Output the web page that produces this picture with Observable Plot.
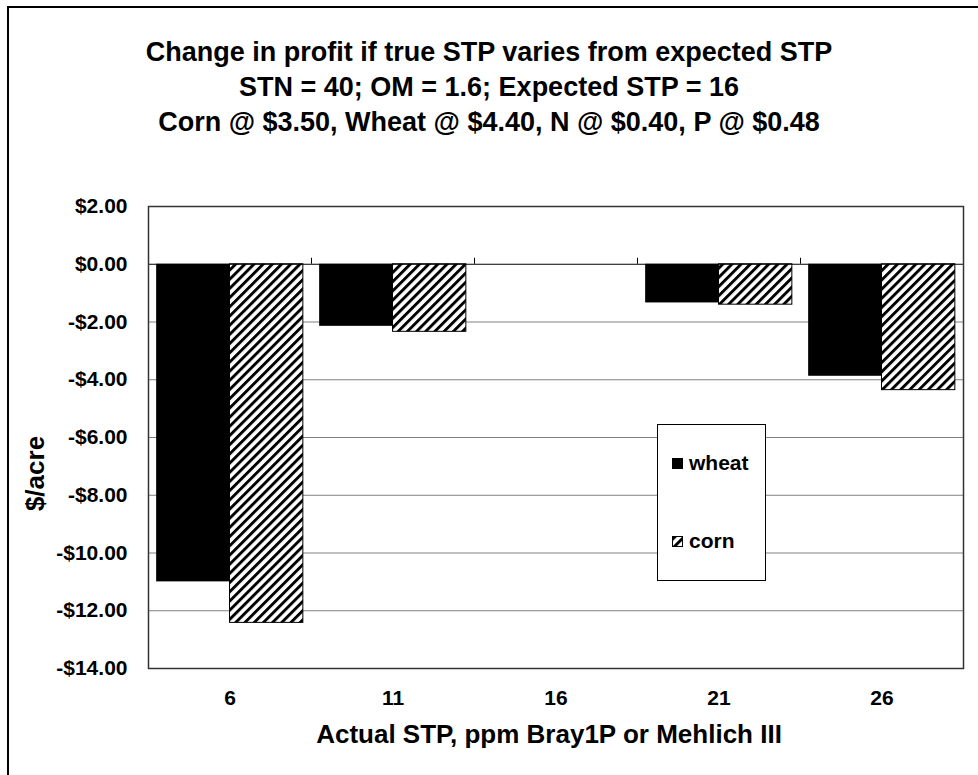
<!DOCTYPE html>
<html>
<head>
<meta charset="utf-8">
<script src="https://cdn.jsdelivr.net/npm/d3@7"></script>
<script src="https://cdn.jsdelivr.net/npm/@observablehq/plot@0.6"></script>
<style>
  html, body { margin: 0; padding: 0; background: #fff; overflow: hidden; }
  #wrap { position: relative; width: 978px; height: 775px; overflow: hidden; font-family: "Liberation Sans", Arial, sans-serif; font-weight: bold; color: #000; }
  #border { position: absolute; left: 7px; top: 6px; width: 1100px; height: 1100px; border: 2px solid #000; box-sizing: border-box; pointer-events: none; z-index: 5; }
  #title { position: absolute; left: 0; top: 0; width: 978px; height: 176px; box-sizing: border-box; padding-top: 35px; text-align: center; font-size: 27px; line-height: 35px; }
  #chart { position: absolute; left: 0; top: 176px; }
  #legend { position: absolute; left: 657px; top: 424px; width: 109px; height: 157px; z-index: 2; }
</style>
</head>
<body>
<div id="wrap">
  <div id="title">
    <div>Change in profit if true STP varies from expected STP</div>
    <div>STN = 40; OM = 1.6; Expected STP = 16</div>
    <div>Corn @ $3.50, Wheat @ $4.40, N @ $0.40, P @ $0.48</div>
  </div>
  <div id="chart"></div>
  <div id="legend"></div>
  <div id="border"></div>
</div>
<script>
// ---- data ----
const stp = ["6", "11", "16", "21", "26"];
const wheat = [-11.0, -2.15, 0, -1.34, -3.88];
const corn = [-12.42, -2.34, 0, -1.40, -4.36];
const seriesNames = ["wheat", "corn"];
const yTicks = [2, 0, -2, -4, -6, -8, -10, -12, -14];
const xTitle = "Actual STP, ppm Bray1P or Mehlich III";
const yTitle = "$/acre";

// ---- tables built from the arrays ----
const wheatRows = stp.map((s, i) => ({stp: s, series: seriesNames[0], value: wheat[i]}));
const cornRows = stp.map((s, i) => ({stp: s, series: seriesNames[1], value: corn[i]}));

const W = 978, H = 599, ML = 148, MR = 15, MT = 30, MB = 107;
const bw = (W - ML - MR) / stp.length;
const pad = bw * 0.05;
const fmt = d => (d < 0 ? "-" : "") + "$" + Math.abs(d).toFixed(2);
const font = '"Liberation Sans", Arial, sans-serif';

// tick marks at the category boundaries, on the zero line, pointing up
function boundaryTicks(index, scales) {
  const {x, y} = scales;
  const g = d3.create("svg:g").attr("stroke", "#000").attr("stroke-width", 1);
  const b = x.bandwidth();
  x.domain().slice(0, -1).forEach(c => {
    const px = Math.round(x(c) + b) + 0.5;
    g.append("line").attr("x1", px).attr("x2", px)
      .attr("y1", y(0)).attr("y2", y(0) - 6);
  });
  return g.node();
}

const chart = Plot.plot({
  width: W,
  height: H,
  marginLeft: ML,
  marginRight: MR,
  marginTop: MT,
  marginBottom: MB,
  style: {fontFamily: font, fontWeight: "bold", fontSize: "21px", color: "#000", background: "transparent"},
  x: {domain: stp, padding: 0, tickSize: 0, tickPadding: 22, label: null},
  y: {domain: [-14, 2], ticks: yTicks, tickFormat: fmt, tickSize: 0, tickPadding: 21, label: null},
  marks: [
    Plot.ruleY(yTicks.filter(d => d !== 0), {stroke: "#808080", strokeWidth: 1}),
    Plot.barY(wheatRows, {x: "stp", y: "value", fill: "#000", insetLeft: pad, insetRight: bw / 2}),
    Plot.barY(cornRows, {x: "stp", y: "value", fill: "url(#hatch)", stroke: "#000", strokeWidth: 1, insetLeft: bw / 2, insetRight: pad}),
    Plot.ruleY([0], {stroke: "#000", strokeWidth: 1}),
    boundaryTicks,
    Plot.frame({stroke: "#333", strokeWidth: 1.5}),
    Plot.text([yTitle], {text: d => d, frameAnchor: "left", dx: -113, dy: 36, rotate: -90, textAnchor: "middle", lineAnchor: "middle", fontSize: 26, fontWeight: "bold"}),
    Plot.text([xTitle], {text: d => d, frameAnchor: "bottom", dx: -7, dy: 66, textAnchor: "middle", lineAnchor: "middle", fontSize: 26, fontWeight: "bold"})
  ]
});

d3.select(chart).insert("defs", ":first-child").html(
  '<pattern id="hatch" patternUnits="userSpaceOnUse" width="6.5" height="6.5" patternTransform="rotate(45)">' +
  '<rect width="6.5" height="6.5" fill="#fff"/><rect width="2.9" height="6.5" fill="#000"/></pattern>'
);
document.getElementById("chart").appendChild(chart);

// ---- legend ----
const leg = d3.select("#legend").append("svg").attr("width", 109).attr("height", 157)
  .style("font-family", font).style("font-weight", "bold").style("font-size", "21px");
leg.append("rect").attr("x", 0.5).attr("y", 0.5).attr("width", 108).attr("height", 156)
  .attr("fill", "#fff").attr("stroke", "#000");
const legRows = [
  {name: seriesNames[0], fill: "#000", y: 46},
  {name: seriesNames[1], fill: "url(#hatch)", y: 124}
];
legRows.forEach(r => {
  leg.append("rect").attr("x", 15.5).attr("y", r.y - 11.5).attr("width", 10).attr("height", 10)
    .attr("fill", r.fill).attr("stroke", "#000");
  leg.append("text").attr("x", 32).attr("y", r.y).text(r.name);
});
</script>
</body>
</html>
